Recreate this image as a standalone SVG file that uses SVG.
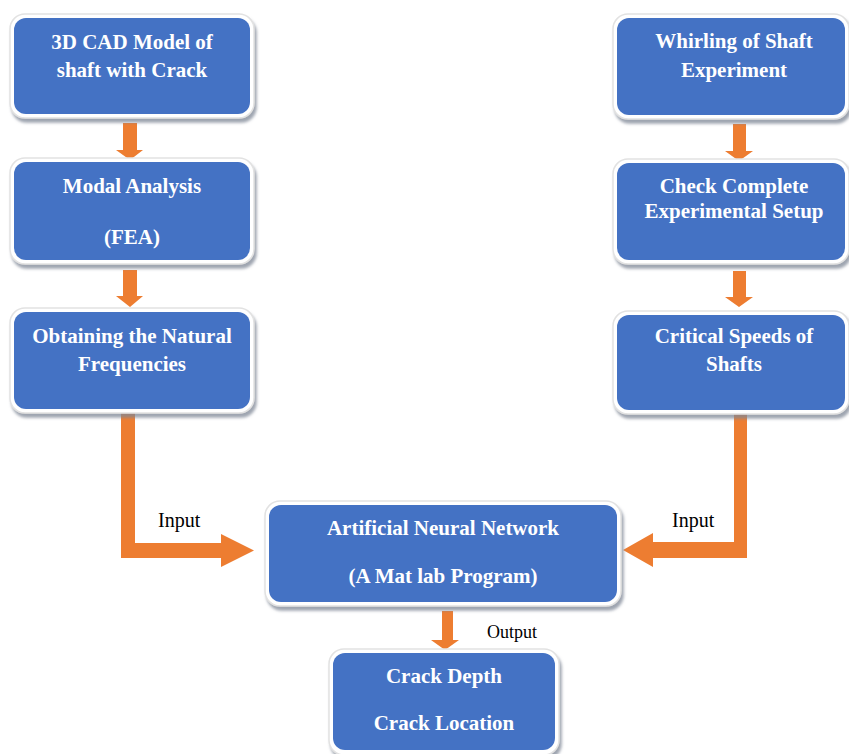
<svg xmlns="http://www.w3.org/2000/svg" width="849" height="754" viewBox="0 0 849 754">
<defs>
<filter id="sh" x="-10%" y="-10%" width="125%" height="130%">
<feDropShadow dx="2" dy="4" stdDeviation="1.5" flood-color="#7f8795" flood-opacity="0.75"/>
</filter>
</defs>
<style>
.rim{fill:#ffffff;stroke:#e2e2e2;stroke-width:1.5;filter:url(#sh)}
.box{fill:#4472C4}
.t{font-family:"Liberation Serif","Times New Roman",serif;font-weight:bold;font-size:21px;fill:#ffffff;text-anchor:middle}
.lbl{font-family:"Liberation Serif","Times New Roman",serif;font-size:18px;fill:#000000}
.in{font-size:20px}
.arr{fill:#ED7D31}
</style>
<rect width="849" height="754" fill="#ffffff"/>
<g id="connectors">
<path class="arr" d="M123,123 H137 V150 H143 L130,160 L116,150 H123 Z"/>
<path class="arr" d="M123,270 H137 V296 H143 L130,307 L116,296 H123 Z"/>
<path class="arr" d="M733,124 H746 V151 H753 L739,161 L725,151 H733 Z"/>
<path class="arr" d="M733,271 H746 V297 H753 L739,307 L725,297 H733 Z"/>
<path class="arr" d="M121,412 H135 V543 H221 V534 L254,550.5 L221,567 V558 H121 Z"/>
<path class="arr" d="M734,412 H747 V558 H653 V567 L623,550 L653,533 V542 H734 Z"/>
<path class="arr" d="M442,611 H453 V640 H459 L445,650 L431,640 H442 Z"/>
<text class="lbl in" x="158" y="527">Input</text>
<text class="lbl in" x="672" y="527">Input</text>
<text class="lbl" x="487" y="638">Output</text>
</g>
<g id="n1">
<rect class="rim" x="10" y="14" width="244" height="104" rx="15"/>
<rect class="box" x="14" y="18" width="236" height="96" rx="12"/>
<text class="t" x="132" y="49">3D CAD Model of</text>
<text class="t" x="132" y="77">shaft with Crack</text>
</g>
<g id="n2">
<rect class="rim" x="10" y="158" width="244" height="106" rx="15"/>
<rect class="box" x="14" y="162" width="236" height="98" rx="12"/>
<text class="t" x="132" y="193">Modal Analysis</text>
<text class="t" x="132" y="244">(FEA)</text>
</g>
<g id="n3">
<rect class="rim" x="10" y="308" width="244" height="105" rx="15"/>
<rect class="box" x="14" y="312" width="236" height="97" rx="12"/>
<text class="t" x="132" y="343">Obtaining the Natural</text>
<text class="t" x="132" y="371">Frequencies</text>
</g>
<g id="n4">
<rect class="rim" x="613" y="14" width="236" height="105" rx="15"/>
<rect class="box" x="617" y="18" width="228" height="97" rx="12"/>
<text class="t" x="734" y="48">Whirling of Shaft</text>
<text class="t" x="734" y="77">Experiment</text>
</g>
<g id="n5">
<rect class="rim" x="613" y="159" width="236" height="105" rx="15"/>
<rect class="box" x="617" y="163" width="228" height="97" rx="12"/>
<text class="t" x="734" y="193">Check Complete</text>
<text class="t" x="734" y="218">Experimental Setup</text>
</g>
<g id="n6">
<rect class="rim" x="613" y="311" width="236" height="103" rx="15"/>
<rect class="box" x="617" y="315" width="228" height="95" rx="12"/>
<text class="t" x="734" y="343">Critical Speeds of</text>
<text class="t" x="734" y="371">Shafts</text>
</g>
<g id="n7">
<rect class="rim" x="265" y="501" width="356" height="105" rx="15"/>
<rect class="box" x="269" y="505" width="348" height="97" rx="12"/>
<text class="t" x="443" y="535">Artificial Neural Network</text>
<text class="t" x="443" y="583">(A Mat lab Program)</text>
</g>
<g id="n8">
<rect class="rim" x="329" y="649" width="230" height="106" rx="15"/>
<rect class="box" x="333" y="653" width="222" height="97" rx="12"/>
<text class="t" x="444" y="683">Crack Depth</text>
<text class="t" x="444" y="730">Crack Location</text>
</g>
</svg>
